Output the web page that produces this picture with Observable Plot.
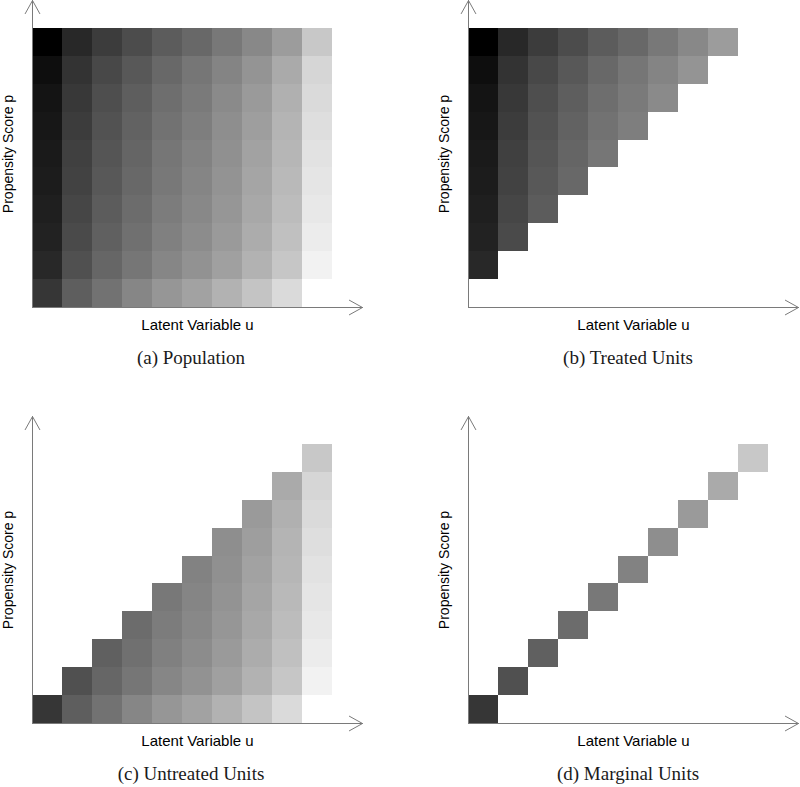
<!DOCTYPE html>
<html>
<head>
<meta charset="utf-8">
<script src="https://cdn.jsdelivr.net/npm/d3@7"></script>
<script src="https://cdn.jsdelivr.net/npm/@observablehq/plot@0.6"></script>
<style>
  html, body { margin: 0; padding: 0; background: #fff; }
  #root { position: relative; width: 800px; height: 787px; overflow: hidden; }
  .panel { position: absolute; }
  .caption { position: absolute; width: 400px; text-align: center; font-family: "Liberation Serif", serif; font-size: 19px; line-height: 22px; color: #1a1a1a; }
</style>
</head>
<body>
<div id="root"></div>
<script>
// Latent variable u (columns) and propensity score p (rows) indices
const uLevels = [0, 1, 2, 3, 4, 5, 6, 7, 8, 9];
const pLevels = [0, 1, 2, 3, 4, 5, 6, 7, 8, 9];

// Gray level (0 = black, 255 = white) of each cell, one array per p row (bottom to top)
const shadeP0 = [54, 94, 114, 134, 150, 162, 178, 196, 218, 255];
const shadeP1 = [40, 80, 102, 118, 134, 146, 160, 178, 198, 242];
const shadeP2 = [34, 74, 96, 112, 128, 140, 154, 172, 192, 236];
const shadeP3 = [31, 70, 92, 108, 124, 136, 150, 168, 188, 232];
const shadeP4 = [28, 66, 88, 104, 120, 133, 147, 165, 185, 229];
const shadeP5 = [26, 64, 85, 101, 118, 130, 144, 162, 182, 226];
const shadeP6 = [23, 60, 82, 98, 114, 126, 142, 158, 180, 222];
const shadeP7 = [20, 56, 78, 94, 110, 122, 138, 154, 176, 218];
const shadeP8 = [14, 51, 72, 88, 104, 118, 132, 148, 170, 214];
const shadeP9 = [0, 40, 60, 76, 92, 104, 120, 136, 156, 200];

const panelTitles = ["(a) Population", "(b) Treated Units", "(c) Untreated Units", "(d) Marginal Units"];
const xLabel = "Latent Variable u";
const yLabel = "Propensity Score p";

const shadeRows = [shadeP0, shadeP1, shadeP2, shadeP3, shadeP4, shadeP5, shadeP6, shadeP7, shadeP8, shadeP9];
const cells = [];
for (const p of pLevels) for (const u of uLevels) cells.push({u, p, shade: shadeRows[p][u]});

const selectors = [
  d => true,            // population
  d => d.u < d.p,       // treated
  d => d.u >= d.p,      // untreated
  d => d.u === d.p      // marginal
];

const axisMax = uLevels.length + 1;
const axes = [
  {x1: 0, y1: 0, x2: axisMax, y2: 0},
  {x1: 0, y1: 0, x2: 0, y2: axisMax}
];

const positions = [
  {left: 0, top: 0, cx: 191},
  {left: 436, top: 0, cx: 628},
  {left: 0, top: 416, cx: 191},
  {left: 436, top: 416, cx: 628}
];

const root = document.getElementById("root");
const axisColor = "#7a7a7a";

panelTitles.forEach((title, i) => {
  const pos = positions[i];
  const chart = Plot.plot({
    width: i % 2 === 0 ? 400 : 364,
    height: 335,
    marginLeft: 32,
    marginRight: i % 2 === 0 ? 38 : 2,
    marginTop: 0,
    marginBottom: 28,
    x: {domain: [0, axisMax], axis: null},
    y: {domain: [0, axisMax], axis: null},
    color: {type: "linear", domain: [0, 255], range: ["black", "white"], interpolate: "rgb"},
    style: {fontFamily: "Liberation Sans, Arial, sans-serif", fontSize: "15px", color: "#000", background: "transparent", overflow: "visible"},
    marks: [
      Plot.rect(cells.filter(selectors[i]), {
        x1: "u", x2: d => d.u + 1, y1: "p", y2: d => d.p + 1,
        fill: "shade", shapeRendering: "crispEdges"
      }),
      Plot.arrow(axes, {
        x1: "x1", y1: "y1", x2: "x2", y2: "y2",
        stroke: axisColor, strokeWidth: 1, headAngle: 58, headLength: 22.5
      }),
      Plot.text([xLabel], {text: d => d, frameAnchor: "bottom", textAnchor: "middle", lineAnchor: "middle", dy: 18, fontSize: 15, fill: "#000"}),
      Plot.text([yLabel], {text: d => d, frameAnchor: "left", textAnchor: "middle", lineAnchor: "middle", rotate: -90, dx: -24, fontSize: 14, fill: "#000"})
    ]
  });
  const wrap = document.createElement("div");
  wrap.className = "panel";
  wrap.style.left = pos.left + "px";
  wrap.style.top = pos.top + "px";
  wrap.appendChild(chart);
  root.appendChild(wrap);

  const cap = document.createElement("div");
  cap.className = "caption";
  cap.textContent = title;
  cap.style.left = (pos.cx - 200) + "px";
  cap.style.top = (pos.top + 347) + "px";
  root.appendChild(cap);
});
</script>
</body>
</html>
